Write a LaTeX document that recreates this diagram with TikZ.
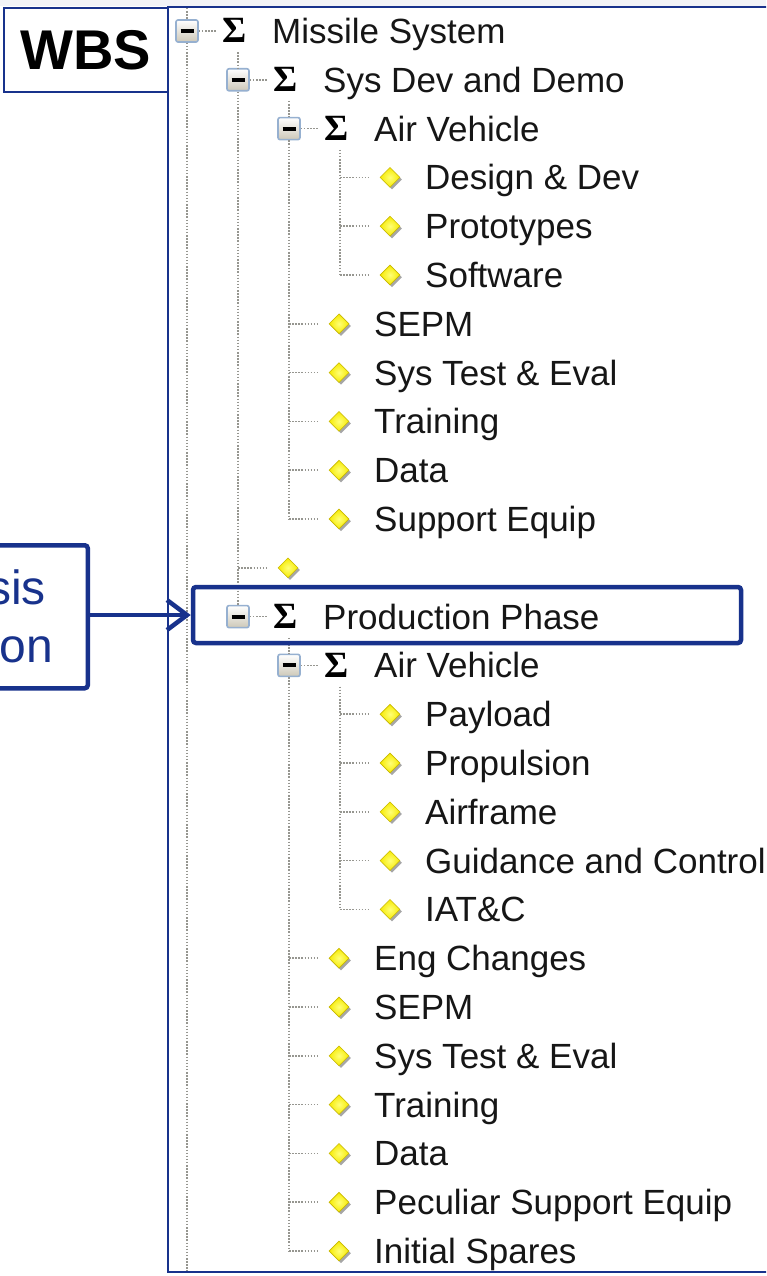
\documentclass[tikz,border=0pt]{standalone}
\usepackage{fontspec}
\setmainfont{Liberation Sans}
\newfontfamily\sigfont{Liberation Serif}
\usetikzlibrary{arrows.meta,shadows,shapes.geometric}
\definecolor{navy}{RGB}{24,50,140}
\definecolor{dotgray}{RGB}{150,150,144}
\definecolor{txt}{RGB}{22,22,22}
\definecolor{expborder}{RGB}{150,176,208}
\definecolor{expbottom}{RGB}{205,200,184}
\definecolor{bulletyel}{RGB}{246,234,0}
\definecolor{bulletlight}{RGB}{255,255,120}
\definecolor{bulletedge}{RGB}{200,184,0}
\definecolor{topgray}{RGB}{242,243,247}
\tikzset{
  dotline/.style={draw=dotgray, line width=1.6pt, dash pattern=on 1.5pt off 1.6pt},
  expbox/.style={rectangle, rounded corners=2pt, draw=expborder, line width=1.6pt,
    top color=white, bottom color=expbottom, minimum size=22pt, inner sep=0pt},
  treetext/.style={anchor=base west, text=txt, font=\fontsize{35}{42}\selectfont, inner sep=0pt},
  sigmatext/.style={anchor=base, text=black, font=\sigfont\bfseries\fontsize{37}{42}\selectfont, inner sep=0pt},
  bulletnode/.style={diamond, aspect=1, minimum width=20pt, minimum height=20pt, inner sep=0pt,
    inner color=bulletlight, outer color=bulletyel,
    draw=bulletedge, line width=0.6pt,
    drop shadow={shadow xshift=2pt, shadow yshift=-2.2pt, opacity=0.35, fill=black}},
  framebox/.style={draw=navy, line width=4.5pt, rounded corners=3pt, inner sep=0pt},
  bluetext/.style={anchor=base east, text=navy, font=\fontsize{48}{58}\selectfont, inner sep=0pt},
  pointer/.style={draw=navy, line width=4.5pt, -{Straight Barb[length=20pt,width=30pt,line width=4.5pt]}}
}
% row, level, text, name
\newcommand{\expitem}[4]{%
  \node[expbox] (#4) at ({187+51*#2},{31+48.8*#1}) {\rule{13pt}{4pt}};
  \draw[dotline] (#4.east) -- ++(17,0);
  \node[sigmatext] (#4s) at ({187+51*#2+48},{31+48.8*#1+12}) {Σ};
  \node[treetext] (#4t) at ({187+51*#2+85},{31+48.8*#1+12.5}) {#3};
}
\newcommand{\leafitem}[4]{%
  \coordinate (#4h) at ({187+51*#2},{31+48.8*#1});
  \node[bulletnode] (#4) at ({187+51*#2+50},{31+48.8*#1}) {};
  \draw[dotline] (#4h) -- ([xshift=-11pt]#4.west);
  \node[treetext] (#4t) at ({187+51*#2+85},{31+48.8*#1+12.5}) {#3};
}
\begin{document}
\begin{tikzpicture}[x=1pt,y=-1pt]
\useasboundingbox (0,0) rectangle (766,1276);
\clip (0,0) rectangle (766,1276);
\fill[white] (0,0) rectangle (766,1276);
\fill[topgray] (0,0) rectangle (766,6.5);

% tree items
\expitem{0}{0}{Missile System}{e0}
\expitem{1}{1}{Sys Dev and Demo}{e1}
\expitem{2}{2}{Air Vehicle}{e2}
\leafitem{3}{3}{Design \& Dev}{b3}
\leafitem{4}{3}{Prototypes}{b4}
\leafitem{5}{3}{Software}{b5}
\leafitem{6}{2}{SEPM}{b6}
\leafitem{7}{2}{Sys Test \& Eval}{b7}
\leafitem{8}{2}{Training}{b8}
\leafitem{9}{2}{Data}{b9}
\leafitem{10}{2}{Support Equip}{b10}
\leafitem{11}{1}{}{b11}
\expitem{12}{1}{Production Phase}{e12}
\expitem{13}{2}{Air Vehicle}{e13}
\leafitem{14}{3}{Payload}{b14}
\leafitem{15}{3}{Propulsion}{b15}
\leafitem{16}{3}{Airframe}{b16}
\leafitem{17}{3}{Guidance and Control}{b17}
\leafitem{18}{3}{IAT\&C}{b18}
\leafitem{19}{2}{Eng Changes}{b19}
\leafitem{20}{2}{SEPM}{b20}
\leafitem{21}{2}{Sys Test \& Eval}{b21}
\leafitem{22}{2}{Training}{b22}
\leafitem{23}{2}{Data}{b23}
\leafitem{24}{2}{Peculiar Support Equip}{b24}
\leafitem{25}{2}{Initial Spares}{b25}

% vertical tree lines
\draw[dotline] (e0 |- 0,8) -- (e0.north);
\draw[dotline] (e0.south) -- (e0 |- 0,1271);
\draw[dotline] ([yshift=-9pt]e0s.south -| e1) -- (e1.north);
\draw[dotline] (e1.south) -- (e12.north);
\draw[dotline] ([yshift=-9pt]e1s.south -| e2) -- (e2.north);
\draw[dotline] (e2.south) -- (b10h);
\draw[dotline] ([yshift=-9pt]e2s.south -| b3h) -- (b5h);
\draw[dotline] ([yshift=-9pt]e12s.south -| e13) -- (e13.north);
\draw[dotline] (e13.south) -- (b25h);
\draw[dotline] ([yshift=-9pt]e13s.south -| b14h) -- (b18h);

% panel frame
\draw[navy, line width=2pt] (780,7) -- (168,7) -- (168,1271.5) -- (780,1271.5);

% WBS label
\node[draw=navy, line width=1.5pt, minimum width=164pt, minimum height=84pt, inner sep=0pt,
  font=\bfseries\fontsize{56}{60}\selectfont, text=black] (wbs) at (86,50) {WBS};

% highlight of Production Phase
\node[framebox, minimum width=548pt, minimum height=56pt] (prod) at (467,615) {};

% partially visible note box
\node[framebox, minimum width=240pt, minimum height=143pt, anchor=north east] (note) at (90,543) {};
\node[bluetext] (note1) at (46,604) {sis};
\node[bluetext] (note2) at (53,662) {on};
\draw[pointer] (note.east |- prod.west) -- (prod.west);
\end{tikzpicture}
\end{document}
